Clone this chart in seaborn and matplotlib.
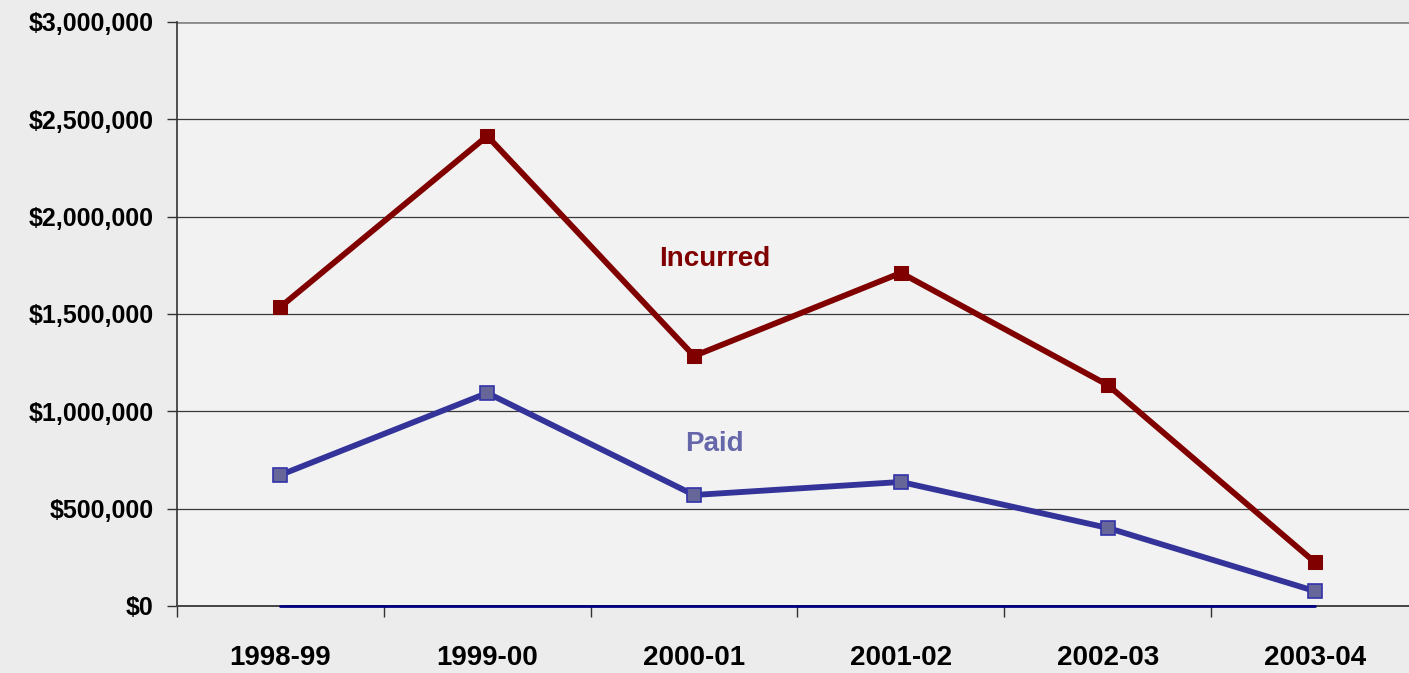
import numpy as np
import matplotlib
matplotlib.use("Agg")
import matplotlib.pyplot as plt
import pandas as pd
import seaborn as sns
from matplotlib.ticker import FuncFormatter, FixedLocator

# Data
seasons = ["1998-99", "1999-00", "2000-01", "2001-02", "2002-03", "2003-04"]
incurred = [1536000, 2414000, 1284000, 1711000, 1135000, 226000]
paid = [673000, 1094000, 570000, 637000, 401000, 77000]
zero_series = [0, 0, 0, 0, 0, 0]

df = pd.DataFrame({"season": seasons, "incurred": incurred, "paid": paid, "zero": zero_series})
df["pos"] = np.arange(len(seasons))

sns.set_style("white")
plt.rcParams["font.family"] = ["Liberation Sans", "DejaVu Sans"]
plt.rcParams["font.weight"] = "bold"
plt.rcParams["text.color"] = "black"
plt.rcParams["xtick.color"] = "black"
plt.rcParams["ytick.color"] = "black"

fig = plt.figure(figsize=(14.09, 6.73), dpi=100, facecolor="#ececec")
ax = fig.add_axes([0.1256, 0.0996, 0.8808, 0.8678])
ax.set_facecolor("#f2f2f2")

# gridlines
for v in np.arange(500000, 3000001, 500000):
    ax.axhline(v, color="#3a3a3a" if v < 3000000 else "#8a8a8a",
               lw=0.9 if v < 3000000 else 2.0, zorder=1)

sns.lineplot(data=df, x="pos", y="zero", color="#000080", lw=2.0, ax=ax,
             zorder=5, clip_on=False)
sns.lineplot(data=df, x="pos", y="incurred", color="#800000", lw=4.2,
             marker="s", markersize=10.5, markerfacecolor="#800000",
             markeredgecolor="#800000", ax=ax, zorder=3)
sns.lineplot(data=df, x="pos", y="paid", color="#333399", lw=4.2,
             marker="s", markersize=10, markerfacecolor="#666699",
             markeredgecolor="#3333aa", markeredgewidth=1.2, ax=ax, zorder=3)

ax.text(2.1, 1780000, "Incurred", color="#800000", fontsize=20, fontweight="bold",
        ha="center", va="center")
ax.text(2.1, 830000, "Paid", color="#6666aa", fontsize=20, fontweight="bold",
        ha="center", va="center")

ax.set_xlim(-0.5, 5.5)
ax.set_ylim(0, 3000000)

ax.xaxis.set_major_locator(FixedLocator(df["pos"].values))
ax.set_xticklabels(seasons)
ax.xaxis.set_minor_locator(FixedLocator(np.arange(-0.5, 6, 1.0)))
ax.tick_params(axis="x", which="major", length=0, pad=28, labelsize=20, labelcolor="black")
ax.tick_params(axis="x", which="minor", bottom=True, length=8, width=1,
               color="#333333", direction="out")

ax.set_yticks(np.arange(0, 3000001, 500000))
ax.yaxis.set_major_formatter(FuncFormatter(lambda v, p: "${:,.0f}".format(v)))
ax.tick_params(axis="y", left=True, length=7, width=1, color="#333333", direction="out",
               pad=10, labelsize=18, labelcolor="black")

for lbl in ax.get_xticklabels() + ax.get_yticklabels():
    lbl.set_fontweight("bold")

ax.set_xlabel("")
ax.set_ylabel("")
for s in ["top", "right"]:
    ax.spines[s].set_visible(False)
ax.spines["left"].set_color("#333333")
ax.spines["left"].set_linewidth(1.2)
ax.spines["bottom"].set_color("#444444")
ax.spines["bottom"].set_linewidth(1.4)

fig.savefig("out.png", dpi=100, facecolor=fig.get_facecolor())
